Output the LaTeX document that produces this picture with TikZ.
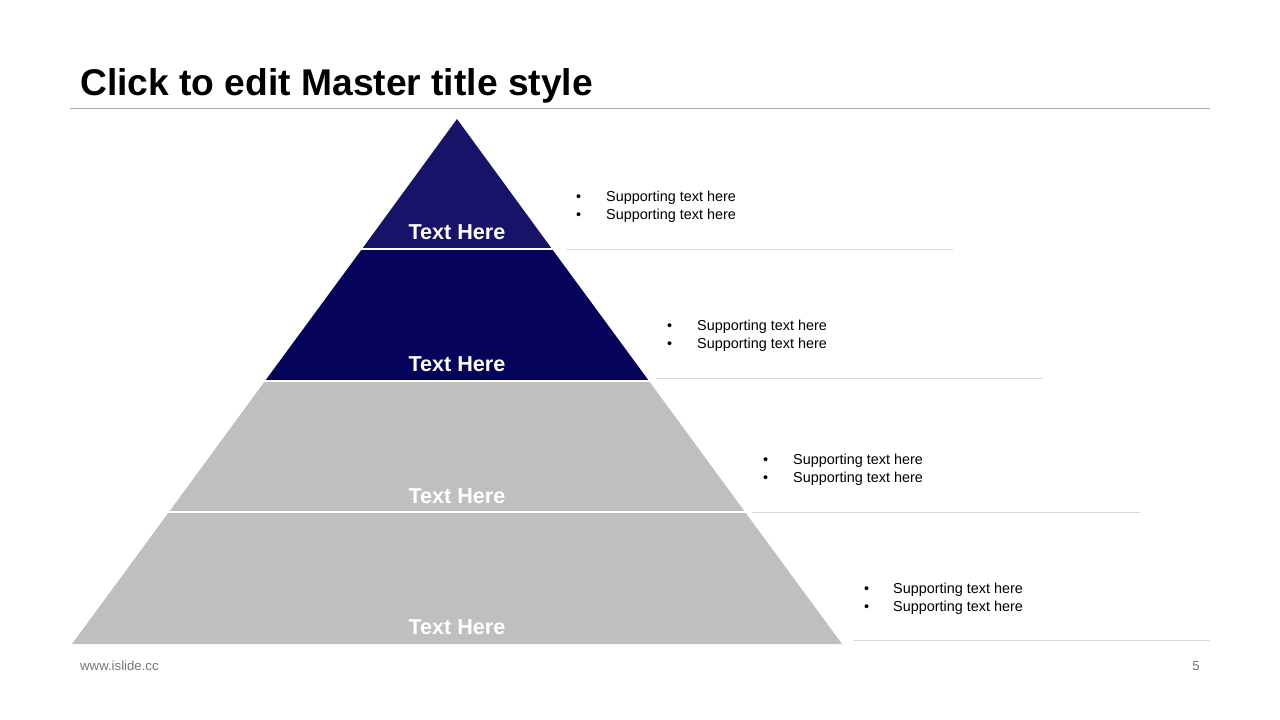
\documentclass[tikz,border=0pt]{standalone}
\usepackage{fontspec}
\setmainfont{Liberation Sans}
\definecolor{navyA}{RGB}{22,19,104}
\definecolor{navyB}{RGB}{6,4,90}
\definecolor{tiergray}{RGB}{191,191,191}
\definecolor{rulegray}{RGB}{166,166,166}
\definecolor{sepgray}{RGB}{217,217,217}
\definecolor{foottext}{RGB}{118,118,118}
\begin{document}
\begin{tikzpicture}[x=1pt,y=-1pt,
  tierlabel/.style={text=white,font=\fontsize{21.6}{25}\selectfont\bfseries,inner sep=0pt,anchor=base},
  bul/.style={font=\fontsize{14.4}{17}\selectfont,inner sep=0pt,anchor=base west},
  sepline/.style={draw=sepgray,line width=1pt},
  gapline/.style={draw=white,line width=1.6pt}]
\useasboundingbox[fill=white] (0,0) rectangle (1280,720);
% title
\node[anchor=base west,inner sep=0pt,font=\fontsize{37.2}{42}\selectfont\bfseries] (title) at (80,95) {Click to edit Master title style};
\draw[draw=rulegray,line width=1pt] (70,108) -- (1210,108);
% pyramid tiers
\fill[navyA] (457,119) -- (552,249) -- (362,249) -- cycle;
\fill[navyB] (362,249) -- (552,249) -- (649,381) -- (265,381) -- cycle;
\fill[tiergray] (265,381) -- (649,381) -- (745,512) -- (169,512) -- cycle;
\fill[tiergray] (169,512) -- (745,512) -- (842,644) -- (72,644) -- cycle;
\draw[gapline] (360,249) -- (554,249);
\draw[gapline] (263,381) -- (651,381);
\draw[gapline] (167,512) -- (747,512);
% tier labels
\node[tierlabel] (t1) at (457,239.5) {Text Here};
\node[tierlabel] (t2) at (457,371.5) {Text Here};
\node[tierlabel] (t3) at (457,503.5) {Text Here};
\node[tierlabel] (t4) at (457,634.5) {Text Here};
% separator lines at right
\draw[sepline] (566,249) -- (953,249);
\draw[sepline] (656,378) -- (1043,378);
\draw[sepline] (752,512) -- (1140,512);
\draw[sepline] (853,640) -- (1210,640);
% supporting text
\foreach \bx/\tx/\ya/\yb/\nm in {578/606/201/219/a,669/697/330/348/b,765/793/464/482/c,866/893/593/611/d}{
  \node[bul] (\nm b1) at (\bx-2,\ya) {•};
  \node[bul] (\nm s1) at (\tx,\ya) {Supporting text here};
  \node[bul] (\nm b2) at (\bx-2,\yb) {•};
  \node[bul] (\nm s2) at (\tx,\yb) {Supporting text here};
}
% footer
\node[anchor=base west,inner sep=0pt,text=foottext,font=\fontsize{13.2}{15}\selectfont] (url) at (80,670) {www.islide.cc};
\node[anchor=base east,inner sep=0pt,text=foottext,font=\fontsize{13.2}{15}\selectfont] (page) at (1200,670) {5};
\end{tikzpicture}
\end{document}
